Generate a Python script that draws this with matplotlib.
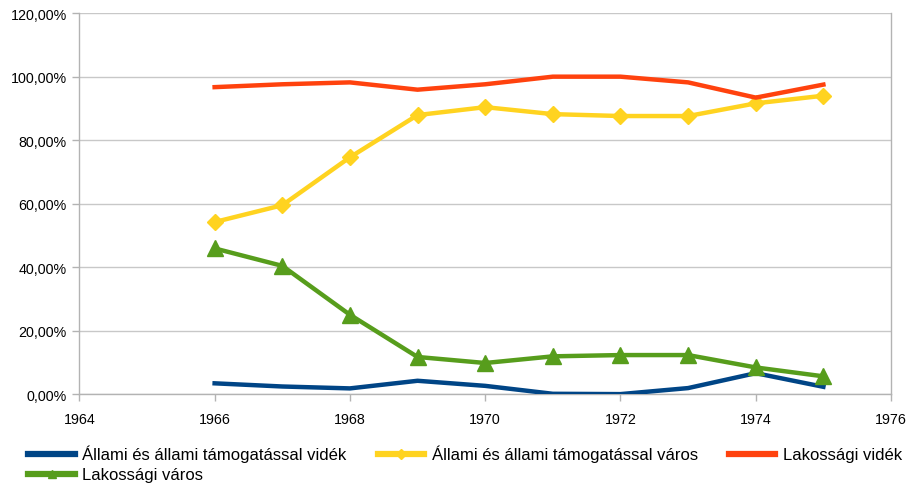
import matplotlib
matplotlib.use("Agg")
import matplotlib.pyplot as plt
from matplotlib.lines import Line2D
from matplotlib.ticker import FuncFormatter, MultipleLocator

plt.rcParams['font.family'] = ['Liberation Sans', 'DejaVu Sans']

years = [1966, 1967, 1968, 1969, 1970, 1971, 1972, 1973, 1974, 1975]
allami_videk = [3.4, 2.4, 1.8, 4.2, 2.6, 0.1, 0.0, 1.9, 6.6, 2.3]
allami_varos = [54.2, 59.5, 74.6, 87.9, 90.4, 88.2, 87.6, 87.6, 91.6, 94.0]
lakossagi_videk = [96.7, 97.6, 98.2, 95.9, 97.6, 100.0, 100.0, 98.2, 93.4, 97.5]
lakossagi_varos = [45.9, 40.4, 25.0, 11.7, 9.8, 11.9, 12.3, 12.3, 8.4, 5.6]

labels = ["Állami és állami támogatással vidék",
          "Állami és állami támogatással város",
          "Lakossági vidék",
          "Lakossági város"]
colors = ["#004586", "#ffd320", "#ff420e", "#579d1c"]

fig = plt.figure(figsize=(9.12, 4.89), dpi=100)
ax = fig.add_axes([0.087, 0.192, 0.890, 0.779])

lw = 3.2
ax.plot(years, allami_videk, color=colors[0], lw=lw, zorder=3)
ax.plot(years, allami_varos, color=colors[1], lw=lw, marker='D', markersize=8.5, zorder=3)
ax.plot(years, lakossagi_videk, color=colors[2], lw=lw, zorder=3)
ax.plot(years, lakossagi_varos, color=colors[3], lw=lw, marker='^', markersize=11.5, zorder=3)

ax.set_xlim(1964, 1976)
ax.set_ylim(0, 120)
ax.xaxis.set_major_locator(MultipleLocator(2))
ax.yaxis.set_major_locator(MultipleLocator(20))
ax.yaxis.set_major_formatter(FuncFormatter(lambda v, p: f"{v:.2f}".replace('.', ',') + "%"))
ax.grid(axis='y', color='#c8c8c8', lw=1.0)
ax.set_axisbelow(True)
for s in ['left', 'right', 'bottom']:
    ax.spines[s].set_color('#b3b3b3')
    ax.spines[s].set_linewidth(1.0)
ax.spines['top'].set_visible(False)
ax.tick_params(axis='both', colors='#b3b3b3', labelcolor='black', labelsize=10.3, length=5, width=1.0)
ax.tick_params(axis='x', pad=8)
ax.tick_params(axis='y', pad=4)

handles = [
    Line2D([], [], color=colors[0], lw=4.5),
    Line2D([], [], color=colors[1], lw=4.5, marker='D', markersize=5),
    Line2D([], [], color=colors[2], lw=4.5),
    Line2D([], [], color=colors[3], lw=4.5, marker='^', markersize=6),
]
order = [0, 3, 1, 2]
fig.legend([handles[i] for i in order], [labels[i] for i in order],
           ncol=3, loc='upper left', bbox_to_anchor=(0.031, 0.088),
           frameon=False, fontsize=12, handlelength=2.8, handletextpad=0.45,
           columnspacing=1.85, labelspacing=0.3, borderaxespad=0, borderpad=0)

fig.savefig("out.png", dpi=100)
